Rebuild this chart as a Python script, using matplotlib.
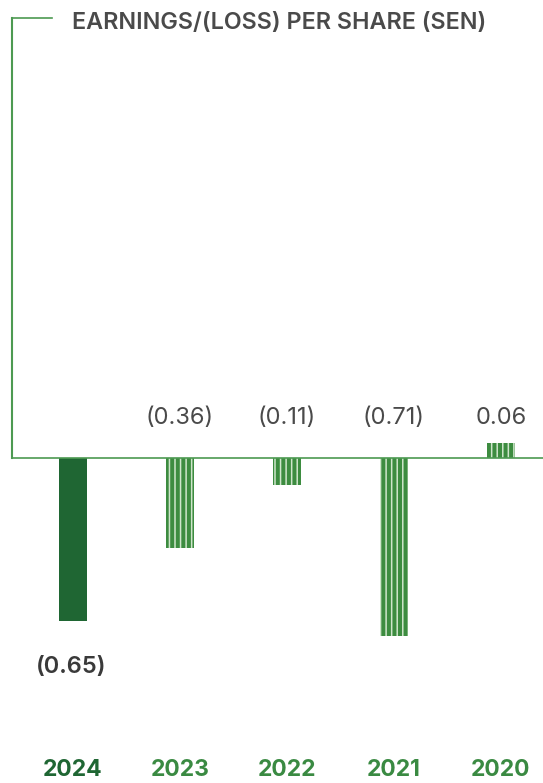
import numpy as np
import matplotlib
matplotlib.use('Agg')
import matplotlib.pyplot as plt

# data
years = ['2024', '2023', '2022', '2021', '2020']
eps = [-0.65, -0.36, -0.11, -0.71, 0.06]
labels = ['(0.65)', '(0.36)', '(0.11)', '(0.71)', '0.06']

dark_green = '#1f6633'
green = '#3d8c40'
line_green = '#4d9a52'
grey = '#4a4a4a'

plt.rcParams['font.family'] = ['Inter', 'DejaVu Sans']
plt.rcParams['hatch.linewidth'] = 1.1

W, H = 543, 783
fig = plt.figure(figsize=(W / 100, H / 100), dpi=100)
# axes spans from x=12px to the right edge, full height
ax = fig.add_axes([12 / W, 0, 1 - 12 / W, 1])

x = np.arange(len(years))
ax.set_xlim(-0.570, 4.393)
ax.set_ylim(-1.30, 1.832)
ytop = 1.76

for i, v in enumerate(eps):
    if i == 0:
        ax.bar(x[i], v, width=0.262, color=dark_green, linewidth=0, zorder=3)
    else:
        ax.bar(x[i], v, width=0.262, color=green, edgecolor='#cfe5cb',
               hatch='|||', linewidth=0, zorder=3)

# frame lines
ax.axhline(0, color=line_green, lw=1.2, zorder=4)
ax.plot([-0.570, -0.570], [0, ytop], color=line_green, lw=1.5, clip_on=False)
ax.plot([-0.570, -0.570 + 40 / 107], [ytop, ytop], color=line_green, lw=1.2,
        clip_on=False)

ax.text(60 / 531, 1 - 23 / H, 'EARNINGS/(LOSS) PER SHARE (SEN)',
        transform=ax.transAxes, ha='left', va='center',
        fontsize=16.8, fontweight='semibold', color=grey)

# value labels
for i, v in enumerate(eps):
    if i == 0:
        ax.text(x[i] - 0.02, v - 0.185, labels[i], ha='center', va='center',
                fontsize=17, fontweight='semibold', color='#3a3a3a')
    else:
        ax.text(x[i], 0.16, labels[i], ha='center', va='center',
                fontsize=17, color=grey)

# year labels
for i, yr in enumerate(years):
    ax.text(x[i], -1.248, yr, ha='center', va='center', fontsize=16.5,
            fontweight='bold', color=dark_green if i == 0 else '#3a8a42')

ax.axis('off')
fig.savefig('out.png', dpi=100)
